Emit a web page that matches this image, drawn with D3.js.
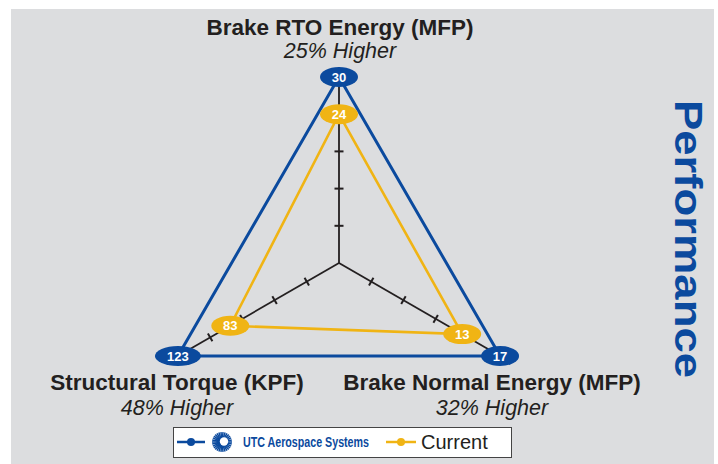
<!DOCTYPE html>
<html lang="en">
<head>
<meta charset="utf-8">
<title>Performance radar</title>
<style>
  body { margin: 0; background: #ffffff; }
  svg { display: block; font-family: "Liberation Sans", Arial, Helvetica, sans-serif; }
</style>
<script src="https://d3js.org/d3.v7.min.js"></script>
</head>
<body>
<svg id="chart" width="718" height="464"></svg>
<script>
// data
var axisNames = ["Brake RTO Energy (MFP)", "Brake Normal Energy (MFP)", "Structural Torque (KPF)"];
var axisNotes = ["25% Higher", "32% Higher", "48% Higher"];
var utcValues = [30, 17, 123];
var currentValues = [24, 13, 83];
var seriesNames = ["UTC Aerospace Systems", "Current"];
var tickCount = 5;

var blue = "#0b4a9e", yellow = "#f0b414", ink = "#231f20";
var cx = 339, cy = 263, R = 186;
var angles = [-90, 30, 150].map(function(d) { return d * Math.PI / 180; });

var svg = d3.select("#chart");

svg.append("rect")
  .attr("x", 11).attr("y", 9).attr("width", 703).attr("height", 460)
  .attr("fill", "#dcdddf");

// one linear scale per axis, 0 at centre, UTC value at the vertex
var scales = utcValues.map(function(v) {
  return d3.scaleLinear().domain([0, v]).range([0, R]);
});

function pt(i, v) {
  var r = scales[i](v);
  return [cx + r * Math.cos(angles[i]), cy + r * Math.sin(angles[i])];
}

// axes + tick marks
var axisG = svg.append("g");
utcValues.forEach(function(v, i) {
  var end = pt(i, v);
  axisG.append("line")
    .attr("x1", cx).attr("y1", cy).attr("x2", end[0]).attr("y2", end[1])
    .attr("stroke", ink).attr("stroke-width", 1.8);
  var ticks = d3.range(1, tickCount).map(function(k) { return v * k / tickCount; });
  var nx = -Math.sin(angles[i]), ny = Math.cos(angles[i]);
  ticks.forEach(function(t) {
    var p = pt(i, t);
    axisG.append("line")
      .attr("x1", p[0] - nx * 4.5).attr("y1", p[1] - ny * 4.5)
      .attr("x2", p[0] + nx * 4.5).attr("y2", p[1] + ny * 4.5)
      .attr("stroke", ink).attr("stroke-width", 2);
  });
});

var line = d3.line().curve(d3.curveLinearClosed);

svg.append("path")
  .attr("d", line(utcValues.map(function(v, i) { return pt(i, v); })))
  .attr("fill", "none").attr("stroke", blue).attr("stroke-width", 3);

svg.append("path")
  .attr("d", line(currentValues.map(function(v, i) { return pt(i, v); })))
  .attr("fill", "none").attr("stroke", yellow).attr("stroke-width", 2.6);

function markers(values, color) {
  var g = svg.append("g");
  values.forEach(function(v, i) {
    var p = pt(i, v);
    var rx = String(v).length > 2 ? 23 : 19;
    g.append("ellipse")
      .attr("cx", p[0]).attr("cy", p[1]).attr("rx", rx).attr("ry", 10)
      .attr("fill", color);
    g.append("text")
      .attr("x", p[0]).attr("y", p[1] + 4.5)
      .attr("text-anchor", "middle")
      .attr("fill", "#fff").attr("font-weight", "bold").attr("font-size", 13)
      .text(v);
  });
}
markers(utcValues, blue);
markers(currentValues, yellow);

// axis titles
var labelPos = [[340, 35, 58], [492, 390, 415], [177, 390, 415]];
axisNames.forEach(function(name, i) {
  svg.append("text")
    .attr("x", labelPos[i][0]).attr("y", labelPos[i][1])
    .attr("text-anchor", "middle").attr("font-weight", "bold")
    .attr("font-size", 22.5).attr("fill", ink)
    .text(name);
  svg.append("text")
    .attr("x", labelPos[i][0]).attr("y", labelPos[i][2])
    .attr("text-anchor", "middle").attr("font-style", "italic")
    .attr("font-size", 21.5).attr("fill", ink)
    .text(axisNotes[i]);
});

// side title
svg.append("text")
  .attr("transform", "translate(675,239) rotate(90)")
  .attr("text-anchor", "middle")
  .attr("font-weight", "bold").attr("font-size", 39).attr("fill", blue)
  .attr("textLength", 278).attr("lengthAdjust", "spacingAndGlyphs")
  .text("Performance");

// legend
var lg = svg.append("g");
lg.append("rect")
  .attr("x", 173.5).attr("y", 427.5).attr("width", 338).attr("height", 30)
  .attr("fill", "#fff").attr("stroke", "#444").attr("stroke-width", 1);

lg.append("line").attr("x1", 177).attr("x2", 205).attr("y1", 442).attr("y2", 442)
  .attr("stroke", blue).attr("stroke-width", 2.5);
lg.append("circle").attr("cx", 191).attr("cy", 442).attr("r", 4).attr("fill", blue);

// little sunburst logo
var logo = lg.append("g").attr("transform", "translate(222,442)");
d3.range(30).forEach(function(k) {
  var a = k / 30 * 2 * Math.PI;
  logo.append("line")
    .attr("x1", 5 * Math.cos(a)).attr("y1", 5 * Math.sin(a))
    .attr("x2", 10 * Math.cos(a)).attr("y2", 10 * Math.sin(a))
    .attr("stroke", blue).attr("stroke-width", 1.5);
});
logo.append("circle").attr("cx", 0).attr("cy", 0).attr("r", 5.5).attr("fill", blue);
logo.append("circle").attr("cx", 2).attr("cy", -0.5).attr("r", 4.2).attr("fill", "#fff");

lg.append("text")
  .attr("x", 243).attr("y", 447)
  .attr("font-weight", "bold").attr("font-size", 15).attr("fill", blue)
  .attr("textLength", 126).attr("lengthAdjust", "spacingAndGlyphs")
  .text(seriesNames[0]);

lg.append("line").attr("x1", 386).attr("x2", 416).attr("y1", 442).attr("y2", 442)
  .attr("stroke", yellow).attr("stroke-width", 2.5);
lg.append("circle").attr("cx", 401).attr("cy", 442).attr("r", 4).attr("fill", yellow);

lg.append("text")
  .attr("x", 421).attr("y", 449)
  .attr("font-size", 20).attr("fill", ink)
  .text(seriesNames[1]);
</script>
</body>
</html>
